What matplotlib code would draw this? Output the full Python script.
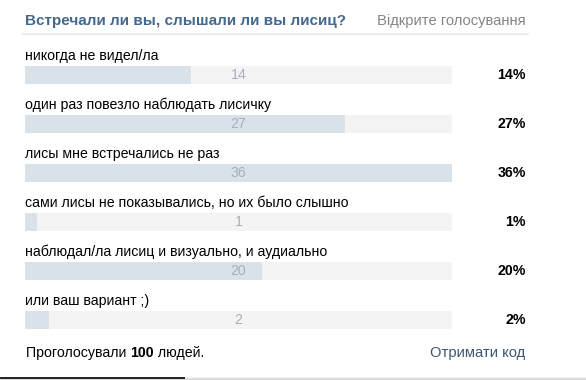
import matplotlib
matplotlib.use("Agg")
import matplotlib.pyplot as plt

title = "Встречали ли вы, слышали ли вы лисиц?"
header_right = "Відкрите голосування"
options = [
    "никогда не видел/ла",
    "один раз повезло наблюдать лисичку",
    "лисы мне встречались не раз",
    "сами лисы не показывались, но их было слышно",
    "наблюдал/ла лисиц и визуально, и аудиально",
    "или ваш вариант ;)",
]
votes = [14, 27, 36, 1, 20, 2]
percents = ["14%", "27%", "36%", "1%", "20%", "2%"]
total_votes = 100
footer_link = "Отримати код"

W, H = 586, 380
fig = plt.figure(figsize=(W / 100, H / 100), dpi=100)
fig.patch.set_facecolor("white")

# text layer in pixel coordinates
bg = fig.add_axes([0, 0, 1, 1])
bg.set_xlim(0, W)
bg.set_ylim(H, 0)
bg.axis("off")

FONT = "Liberation Sans"
fs = 10.2

bg.text(25, 21, title, fontsize=11, fontweight="bold", color="#45688e",
        family=FONT, va="center", ha="left")
bg.text(526, 21, header_right, fontsize=10.6, color="#858585",
        family=FONT, va="center", ha="right")
bg.plot([22, 528], [34, 34], color="#e8e9ec", lw=1.2)

row0 = 75
step = 49
bar_h = 18
left_px, right_px = 25, 452
vmax = max(votes)

# bars axes: x in vote units, y in pixel rows
bx = fig.add_axes([left_px / W, 0, (right_px - left_px) / W, 1])
bx.set_xlim(0, vmax)
bx.set_ylim(H, 0)
bx.axis("off")

for i, (lab, v, p) in enumerate(zip(options, votes, percents)):
    yc = row0 + i * step
    bx.barh(yc, vmax, height=bar_h, color="#f4f4f4", left=0)
    bx.barh(yc, v, height=bar_h, color="#dae2e9", left=0)
    bx.text(vmax / 2, yc, str(v), fontsize=fs, color="#a6b0bc",
            family=FONT, ha="center", va="center")
    bg.text(25, yc - 19, lab, fontsize=fs, color="#000000", family=FONT,
            ha="left", va="center")
    bg.text(526, yc, p, fontsize=10.2, fontweight="bold", color="#000000",
            family=FONT, ha="right", va="center")

t0 = bg.text(26, 353, "Проголосували ", fontsize=fs, color="#000000",
             family=FONT, ha="left", va="center")
fig.canvas.draw()
r = fig.canvas.get_renderer()
bb = t0.get_window_extent(r)
tb = bg.text(bb.x1, H - 353, str(total_votes), fontsize=fs, fontweight="bold",
             color="#000000", family=FONT, ha="left", va="center",
             transform=None)
fig.canvas.draw()
bb2 = tb.get_window_extent(r)
bg.text(bb2.x1, H - 353, " людей.", fontsize=fs, color="#000000", family=FONT,
        ha="left", va="center", transform=None)
bg.text(525, 353, footer_link, fontsize=10.6, color="#3e566e", family=FONT,
        ha="right", va="center")

# bottom edge
bg.plot([0, W], [379, 379], color="#dcdcdc", lw=2.5, solid_capstyle="butt")
bg.plot([0, 185], [377.5, 377.5], color="#000000", lw=1.2, solid_capstyle="butt")

fig.savefig("out.png", dpi=100, facecolor="white")
